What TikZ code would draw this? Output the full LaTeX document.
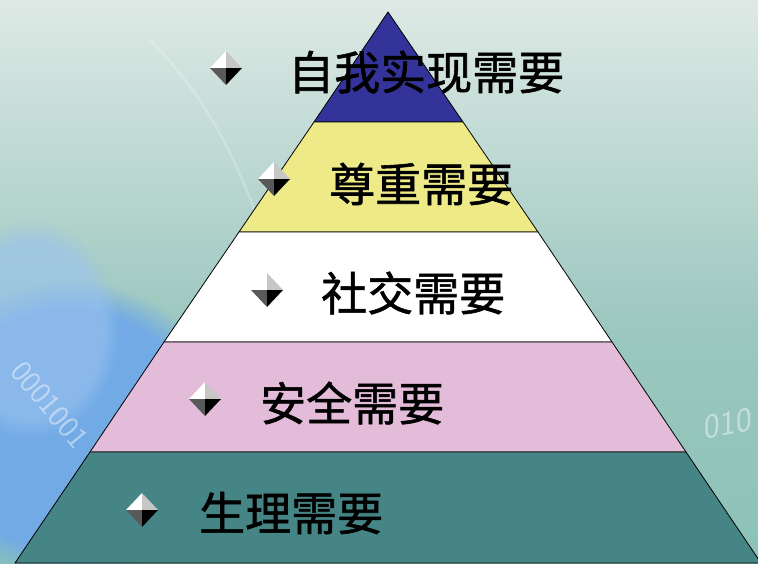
\documentclass[tikz,border=0pt]{standalone}
\usepackage{fontspec}
\newfontfamily\cjk[FakeBold=1.2]{Noto Sans CJK SC}
\usetikzlibrary{fadings}
\definecolor{bgtop}{HTML}{DEE9E5}
\definecolor{bgmid}{HTML}{9BC7BF}
\definecolor{bgbot}{HTML}{8CC2B7}
\definecolor{bgblue}{HTML}{6EA8EA}
\definecolor{lvA}{HTML}{333399}
\definecolor{lvB}{HTML}{EEEA88}
\definecolor{lvC}{HTML}{FFFFFF}
\definecolor{lvD}{HTML}{E3BCD9}
\definecolor{lvE}{HTML}{468586}
\tikzset{
  level/.style={draw=black, line width=0.8pt, line join=miter},
  label/.style={font=\cjk\fontsize{46}{46}\selectfont, inner sep=0pt, anchor=west, text=black},
  bin/.style={font=\sffamily\fontsize{31}{31}\selectfont, text=white, opacity=0.45, inner sep=0pt},
}
\newcommand{\gem}[2]{%
  \coordinate (#2) at #1;
  \fill[white] (#2) -- ++(-16,0) -- ++(16,-17) -- cycle;
  \fill[gray!45] (#2) -- ++(16,0) -- ++(-16,-17) -- cycle;
  \fill[gray!70!black] (#2) -- ++(-16,0) -- ++(16,17) -- cycle;
  \fill[black] (#2) -- ++(16,0) -- ++(-16,17) -- cycle;
}
\begin{document}
\begin{tikzpicture}[x=1pt,y=-1pt]
\useasboundingbox (0,0) rectangle (758,563);
% background
\shade[top color=bgtop, bottom color=bgmid] (0,0) rectangle (758,330);
\shade[top color=bgmid, bottom color=bgbot] (0,330) rectangle (758,563);
\fill[bgblue, path fading=circle with fuzzy edge 20 percent, opacity=0.9] (70,430) ellipse (160 and 150);
\fill[bgblue!70!white, path fading=circle with fuzzy edge 20 percent, opacity=0.6] (30,330) ellipse (90 and 110);
\draw[white, opacity=0.22, line width=2.5pt] (150,40) .. controls (200,90) and (235,150) .. (265,240);
\node[bin, rotate=-50] (b1) at (50,405) {0001001};
\node[bin, font=\sffamily\itshape\fontsize{34}{34}\selectfont, rotate=12] (b2) at (726,424) {010};
% pyramid levels
\coordinate (apex) at (388,12);
\filldraw[level, fill=lvA] (apex) -- (463,122) -- (314,122) -- cycle;
\filldraw[level, fill=lvB] (314,122) -- (463,122) -- (538,232) -- (239,232) -- cycle;
\filldraw[level, fill=lvC] (239,232) -- (538,232) -- (612,342) -- (164,342) -- cycle;
\filldraw[level, fill=lvD] (164,342) -- (612,342) -- (686,452) -- (90,452) -- cycle;
\filldraw[level, fill=lvE] (90,452) -- (686,452) -- (761,563) -- (15,563) -- cycle;
% bullets
\gem{(226,68)}{g1}
\gem{(274,179)}{g2}
\gem{(267,290)}{g3}
\gem{(205,399)}{g4}
\gem{(142,510)}{g5}
% labels
\node[label] (t1) at (288,72) {自我实现需要};
\node[label] (t2) at (329,184) {尊重需要};
\node[label] (t3) at (321,293) {社交需要};
\node[label] (t4) at (260,403) {安全需要};
\node[label] (t5) at (199,513) {生理需要};
\end{tikzpicture}
\end{document}
